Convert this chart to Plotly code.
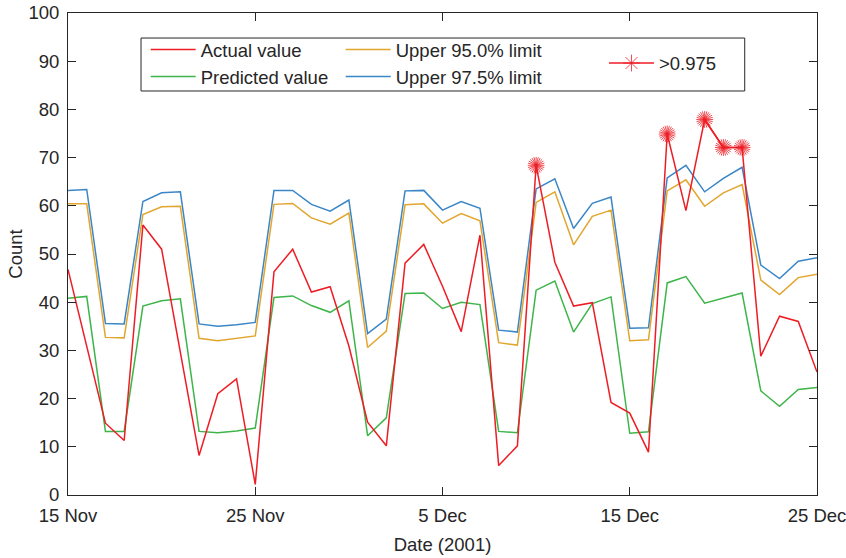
import plotly.graph_objects as go
import pandas as pd

dates = pd.date_range("2001-11-15", "2001-12-25", freq="D")

actual = [46.8, 30.9, 14.9, 11.3, 56.0, 51.0, 29.6, 8.2, 21.0, 24.1, 2.2,
          46.3, 51.0, 42.1, 43.2, 30.9, 15.1, 10.2, 48.1, 52.0, 43.3,
          33.9, 53.9, 6.1, 10.2, 68.4, 48.3, 39.2, 39.9, 19.2, 17.0,
          8.9, 74.9, 59.0, 77.9, 72.1, 72.1, 28.8, 37.1, 36.0, 25.5]
predicted = [40.8, 41.2, 13.2, 13.2, 39.2, 40.3, 40.7, 13.2, 12.9, 13.3, 13.9,
             41.0, 41.3, 39.3, 37.9, 40.3, 12.3, 16.0, 41.8, 41.9, 38.7,
             40.0, 39.5, 13.2, 12.9, 42.5, 44.4, 33.8, 39.7, 41.1, 12.8,
             13.1, 44.0, 45.3, 39.8, 40.8, 41.9, 21.6, 18.4, 21.9, 22.3]
upper95 = [60.4, 60.4, 32.7, 32.6, 58.2, 59.8, 59.9, 32.5, 32.0, 32.5, 33.0,
           60.3, 60.5, 57.5, 56.2, 58.5, 30.6, 34.0, 60.2, 60.4, 56.4,
           58.4, 56.9, 31.6, 31.1, 60.7, 62.9, 51.9, 57.8, 59.1, 32.0,
           32.2, 63.1, 65.4, 59.9, 62.7, 64.4, 44.6, 41.6, 45.1, 45.8]
upper975 = [63.2, 63.4, 35.6, 35.5, 60.9, 62.7, 62.9, 35.5, 35.0, 35.3, 35.8,
            63.2, 63.2, 60.3, 58.9, 61.2, 33.5, 36.5, 63.1, 63.2, 59.1,
            60.9, 59.5, 34.2, 33.8, 63.5, 65.6, 55.3, 60.5, 61.8, 34.6,
            34.7, 65.8, 68.4, 62.9, 65.7, 68.0, 47.7, 44.9, 48.5, 49.2]
# days flagged above the 0.975 limit (index into dates)
alarm_idx = [25, 32, 34, 35, 36]
alarm = [actual[i] if i in alarm_idx else None for i in range(len(dates))]

tick_vals = ["2001-11-15", "2001-11-25", "2001-12-05", "2001-12-15", "2001-12-25"]
tick_text = ["15 Nov", "25 Nov", "5 Dec", "15 Dec", "25 Dec"]
y_ticks = list(range(0, 101, 10))

RED = "#EE1D25"
GREEN = "#3DB549"
ORANGE = "#E2A52E"
BLUE = "#3A86C6"
INK = "#262626"
FONT = "Liberation Sans, Arial, sans-serif"
FS = 18.5
LW = 1.5

fig = go.Figure()
# drawing order: green, blue, orange, red, stars
fig.add_trace(go.Scatter(x=dates, y=predicted, mode="lines", name="Predicted value",
                         legend="legend", legendrank=2,
                         line=dict(color=GREEN, width=LW)))
fig.add_trace(go.Scatter(x=dates, y=upper975, mode="lines", name="Upper 97.5% limit",
                         legend="legend2", legendrank=2,
                         line=dict(color=BLUE, width=LW)))
fig.add_trace(go.Scatter(x=dates, y=upper95, mode="lines", name="Upper 95.0% limit",
                         legend="legend2", legendrank=1,
                         line=dict(color=ORANGE, width=LW)))
fig.add_trace(go.Scatter(x=dates, y=actual, mode="lines", name="Actual value",
                         legend="legend", legendrank=1,
                         line=dict(color=RED, width=LW)))
fig.add_trace(go.Scatter(x=dates, y=alarm, mode="lines+markers", name=">0.975",
                         legend="legend3", connectgaps=False, legendgroup="alarm",
                         line=dict(color=RED, width=LW),
                         marker=dict(symbol="asterisk-open", size=14, color=RED,
                                     line=dict(color=RED, width=0.8))))
for ang in (15, 30):
    fig.add_trace(go.Scatter(x=dates, y=alarm, mode="markers", showlegend=False,
                             legend="legend3", legendgroup="alarm", hoverinfo="skip",
                             marker=dict(symbol="asterisk-open", size=14, angle=ang,
                                         color=RED, line=dict(color=RED, width=0.8))))

leg_common = dict(orientation="v", traceorder="normal", yanchor="middle",
                  xanchor="left", bgcolor="rgba(0,0,0,0)", borderwidth=0,
                  itemwidth=45, font=dict(family=FONT, size=FS, color=INK))

fig.update_layout(
    width=846, height=558,
    margin=dict(l=68, r=29, t=13, b=63),
    paper_bgcolor="white", plot_bgcolor="white",
    font=dict(family=FONT, size=FS, color=INK),
    showlegend=True,
    legend=dict(x=0.1037, y=0.8952, **leg_common),
    legend2=dict(x=0.3641, y=0.8952, **leg_common),
    legend3=dict(x=0.7156, y=0.8952, **leg_common),
    shapes=[dict(type="rect", xref="paper", yref="paper",
                 x0=0.0975, x1=0.9035, y0=0.8382, y1=0.9481,
                 line=dict(color=INK, width=1), fillcolor="white", layer="above")],
)
fig.update_xaxes(
    type="date", automargin=False,
    range=["2001-11-15", "2001-12-25"],
    tickvals=tick_vals, ticktext=tick_text,
    ticks="inside", ticklen=8, tickcolor=INK, tickwidth=1,
    showline=True, linecolor=INK, linewidth=1, mirror="ticks",
    showgrid=False, zeroline=False,
    tickfont=dict(family=FONT, size=FS, color=INK),
    ticklabelstandoff=4, ticklabeloverflow="allow",
    title=dict(text="Date (2001)", font=dict(family=FONT, size=FS, color=INK), standoff=12),
)
fig.update_yaxes(
    range=[0, 100], tickvals=y_ticks, automargin=False,
    ticks="inside", ticklen=8, tickcolor=INK, tickwidth=1,
    showline=True, linecolor=INK, linewidth=1, mirror="ticks",
    showgrid=False, zeroline=False,
    tickfont=dict(family=FONT, size=FS, color=INK),
    ticklabelstandoff=4, ticklabeloverflow="allow",
    title=dict(text="Count", font=dict(family=FONT, size=FS, color=INK), standoff=0),
)

fig.write_html("out.html")
